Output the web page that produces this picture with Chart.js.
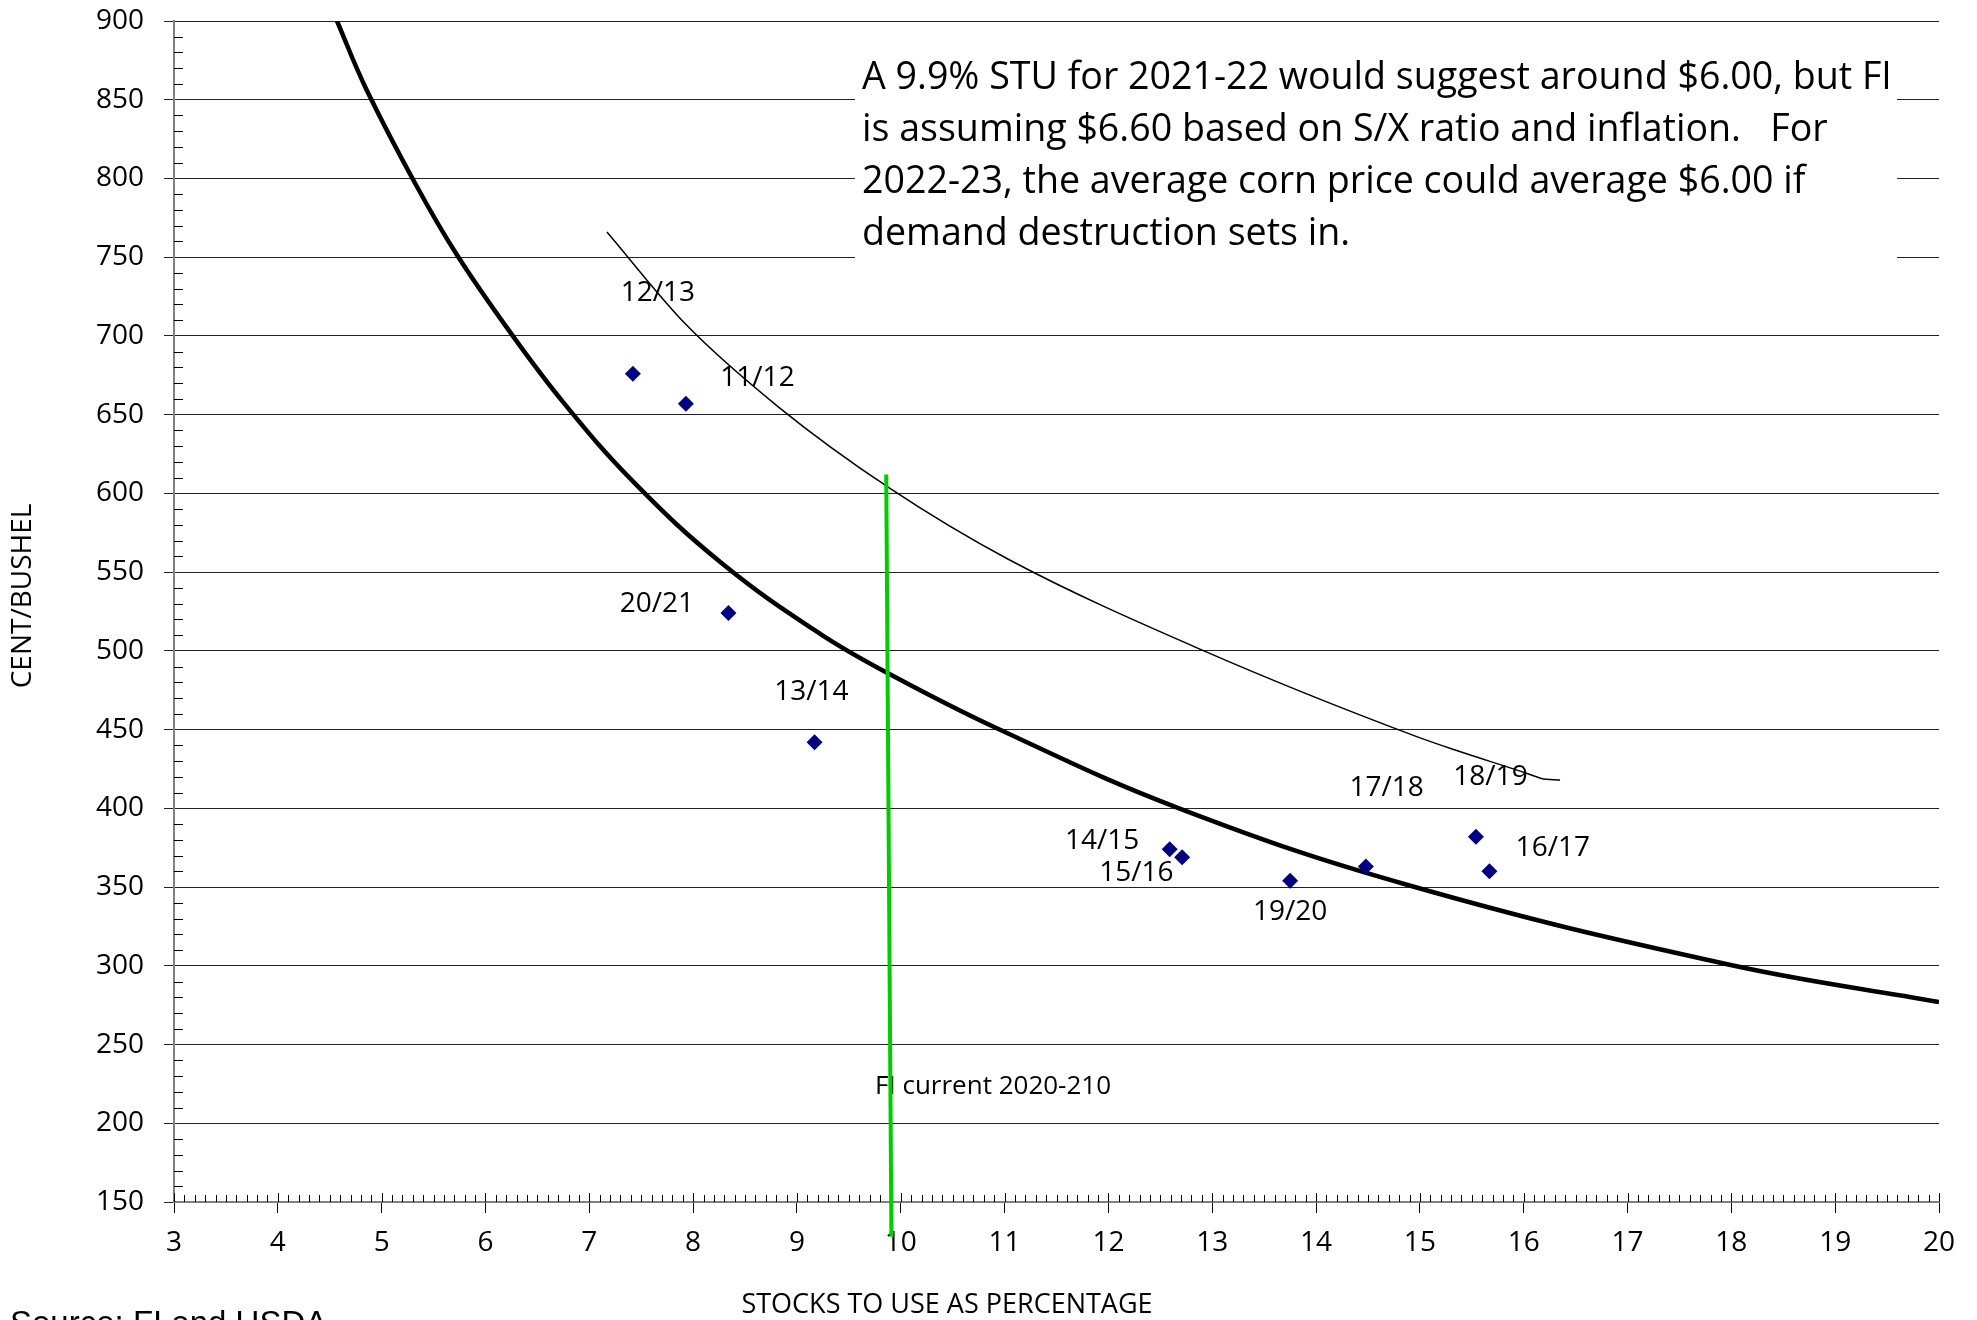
<!DOCTYPE html>
<html>
<head>
<meta charset="utf-8">
<script src="https://cdn.jsdelivr.net/npm/chart.js@4.4.1/dist/chart.umd.min.js"></script>
<style>
  body { margin: 0; background: #fff; }
  canvas { display: block; }
</style>
</head>
<body>
<canvas id="stu-chart" width="1977" height="1320"></canvas>
<script>
// season points: stocks-to-use (%) vs price (cents/bushel)
const seasons = ['12/13', '11/12', '20/21', '13/14', '14/15', '15/16', '19/20', '17/18', '18/19', '16/17'];
const stuValues = [7.42, 7.93, 8.34, 9.17, 12.59, 12.71, 13.75, 14.48, 15.54, 15.67];
const priceValues = [676, 657, 524, 442, 374, 369, 354, 363, 382, 360];

// where each season label sits (chart units)
const labelX = [7.66, 8.62, 7.65, 9.14, 11.94, 12.27, 13.75, 14.68, 15.68, 16.28];
const labelY = [727, 673, 530, 474, 379, 359, 334, 413, 420, 375];

// thick trend curve
const trendX = [4.57, 4.85, 5.33, 5.72, 6.22, 6.76, 7.43, 8.27, 9.22, 9.9, 10.92, 12.68, 14.9, 17.96, 20];
const trendY = [900, 857, 796, 752, 704, 657, 607, 556, 511, 485, 451, 400, 351, 301, 277];

// thin curve
const thinX = [7.17, 7.92, 8.82, 9.9, 11.04, 12.92, 14.95, 15.34, 16.04, 16.17, 16.35];
const thinY = [766, 708, 655, 603, 558, 500, 446, 437, 422, 419, 418];

// green "FI current" marker
const currentX = [9.86, 9.91];
const currentY = [612, 128];

const xTicks = [3, 20];
const yTicks = [150, 900];

const noteLines = [
    'A 9.9% STU for 2021-22 would suggest around $6.00, but FI',
    'is assuming $6.60 based on S/X ratio and inflation.   For',
    '2022-23, the average corn price could average $6.00 if',
    'demand destruction sets in.'
];

function toPoints(xs, ys) {
    return xs.map((v, i) => ({ x: v, y: ys[i] }));
}

const decor = {
    id: 'decor',
    beforeDatasetsDraw(chart) {
        const { ctx, chartArea: a, scales: { x, y } } = chart;
        ctx.save();
        // white box under the note
        ctx.fillStyle = '#fff';
        ctx.fillRect(855, 30, 1042, 245);

        // minor + upper major ticks on the x axis
        ctx.strokeStyle = '#000';
        ctx.lineWidth = 1;
        ctx.beginPath();
        for (let i = xTicks[0] * 10; i <= xTicks[1] * 10; i++) {
            const px = Math.round(x.getPixelForValue(i / 10)) + 0.5;
            const len = i % 10 === 0 ? 9 : 7;
            ctx.moveTo(px, a.bottom - len);
            ctx.lineTo(px, a.bottom);
        }
        // minor ticks on the y axis
        for (let v = yTicks[0]; v <= yTicks[1]; v += 10) {
            if (v % 50 === 0) continue;
            const py = Math.round(y.getPixelForValue(v)) + 0.5;
            ctx.moveTo(a.left, py);
            ctx.lineTo(a.left + 9, py);
        }
        ctx.stroke();

        ctx.fillStyle = '#000';
        ctx.font = '26px "Open Sans"';
        ctx.textAlign = 'left';
        ctx.textBaseline = 'middle';
        ctx.fillText('FI current 2020-210', 875, 1087);
        ctx.restore();
    },
    afterDraw(chart) {
        const { ctx, scales: { x, y } } = chart;
        ctx.save();
        ctx.fillStyle = '#000';

        // season labels
        ctx.font = '28px "Open Sans"';
        ctx.textAlign = 'center';
        ctx.textBaseline = 'middle';
        seasons.forEach((s, i) => {
            ctx.fillText(s, x.getPixelForValue(labelX[i]), y.getPixelForValue(labelY[i]));
        });

        // note
        ctx.font = '37.6px "Open Sans"';
        ctx.textAlign = 'left';
        ctx.textBaseline = 'alphabetic';
        noteLines.forEach((t, i) => ctx.fillText(t, 862, 89 + i * 52));

        // axis titles
        ctx.font = '27px "Open Sans"';
        ctx.textAlign = 'center';
        ctx.textBaseline = 'middle';
        ctx.fillText('STOCKS TO USE AS PERCENTAGE', 947, 1305);
        ctx.save();
        ctx.translate(23, 596);
        ctx.rotate(-Math.PI / 2);
        ctx.font = '28px "Open Sans"';
        ctx.fillText('CENT/BUSHEL', 0, 0);
        ctx.restore();

        // source, cut off at the bottom edge
        ctx.font = '33px "Liberation Sans"';
        ctx.textAlign = 'left';
        ctx.textBaseline = 'alphabetic';
        ctx.fillText('Source: FI and USDA', 10, 1334);
        ctx.restore();
    }
};

const ctx = document.getElementById('stu-chart').getContext('2d');
new Chart(ctx, {
    type: 'scatter',
    data: {
        datasets: [
            {
                label: 'seasons',
                data: toPoints(stuValues, priceValues),
                pointStyle: 'rectRot',
                pointRadius: 8,
                backgroundColor: '#000080',
                borderColor: '#000080',
                borderWidth: 0,
                showLine: false
            },
            {
                label: 'current',
                data: toPoints(currentX, currentY),
                showLine: true,
                borderColor: '#00cc00',
                borderWidth: 4,
                pointRadius: 0,
                clip: false
            },
            {
                label: 'trend',
                data: toPoints(trendX, trendY),
                showLine: true,
                borderColor: '#000',
                borderWidth: 4.5,
                pointRadius: 0,
                tension: 0.4
            },
            {
                label: 'thin',
                data: toPoints(thinX, thinY),
                showLine: true,
                borderColor: '#000',
                borderWidth: 1.5,
                pointRadius: 0,
                cubicInterpolationMode: 'monotone'
            }
        ]
    },
    options: {
        responsive: false,
        animation: false,
        layout: { padding: { left: 0, right: 38, top: 21, bottom: 0 } },
        plugins: { legend: { display: false }, tooltip: { enabled: false } },
        scales: {
            x: {
                type: 'linear',
                min: xTicks[0],
                max: xTicks[1],
                ticks: {
                    stepSize: 1,
                    color: '#000',
                    font: { family: 'Open Sans', size: 28 },
                    padding: 13,
                    maxRotation: 0,
                    autoSkip: false
                },
                grid: { drawOnChartArea: false, tickLength: 11, color: '#000' },
                border: { color: '#808080', width: 2 },
                afterFit: s => { s.height = 118; s.paddingLeft = 0; s.paddingRight = 0; }
            },
            y: {
                type: 'linear',
                min: yTicks[0],
                max: yTicks[1],
                ticks: {
                    stepSize: 50,
                    color: '#000',
                    font: { family: 'Open Sans', size: 28 },
                    padding: 20
                },
                grid: { color: '#222', lineWidth: 1, tickLength: 10 },
                border: { color: '#808080', width: 2 },
                afterFit: s => { s.width = 174; s.paddingTop = 0; s.paddingBottom = 0; }
            }
        }
    },
    plugins: [decor]
});
</script>
</body>
</html>
